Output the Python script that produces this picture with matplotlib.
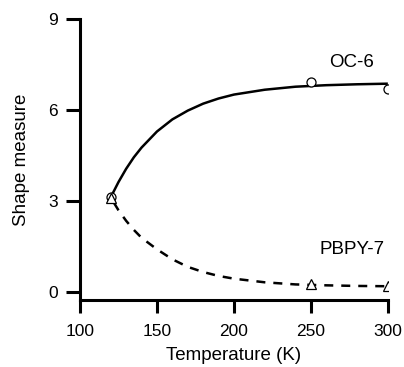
import matplotlib
matplotlib.use("Agg")
import matplotlib.pyplot as plt

plt.rcParams['font.family'] = ['Liberation Sans', 'DejaVu Sans']

# Measured points
temps = [120, 250, 300]
oc6 = [3.13, 6.93, 6.70]
pbpy7 = [3.10, 0.27, 0.21]

# Fit curves
curve_t = [120, 125, 130, 135, 140, 150, 160, 170, 180, 190, 200, 220, 240, 260, 280, 300]
oc6_curve = [3.13, 3.63, 4.07, 4.45, 4.77, 5.30, 5.70, 5.99, 6.22, 6.39, 6.52, 6.68, 6.78, 6.83, 6.86, 6.88]
pbpy7_curve_t = [122, 125, 130, 135, 140, 150, 160, 170, 180, 190, 200, 220, 240, 260, 280, 300]
pbpy7_curve = [2.95, 2.70, 2.35, 2.05, 1.79, 1.41, 1.08, 0.83, 0.66, 0.53, 0.44, 0.32, 0.25, 0.22, 0.20, 0.19]

xticks = [100, 150, 200, 250, 300]
yticks = [0, 3, 6, 9]

fig = plt.figure(figsize=(4.04, 3.67), dpi=100)
ax = fig.add_axes([0.198, 0.1826, 0.762, 0.7643])

ax.plot(curve_t, oc6_curve, color='black', lw=1.8, solid_capstyle='butt')
ax.plot(pbpy7_curve_t, pbpy7_curve, color='black', lw=1.8, linestyle=(0, (3.6, 3.2)))
ax.plot(temps, oc6, linestyle='none', marker='o', ms=6.5, mfc='white', mec='black', mew=0.9)
ax.plot(temps, pbpy7, linestyle='none', marker='^', ms=6.5, mfc='white', mec='black', mew=0.9)

ax.text(276.5, 7.58, 'OC-6', ha='center', va='center', fontsize=13.5)
ax.text(276.5, 1.39, 'PBPY-7', ha='center', va='center', fontsize=13.5)

ax.set_xlim(100, 300)
ax.set_ylim(-0.264, 9)
ax.set_xticks(xticks)
ax.set_yticks(yticks)
ax.spines['top'].set_visible(False)
ax.spines['right'].set_visible(False)
for s in ['left', 'bottom']:
    ax.spines[s].set_linewidth(2.2)
ax.tick_params(axis='both', direction='out', width=2.2, labelsize=12.5, colors='black')
ax.tick_params(axis='y', length=10, pad=6)
ax.tick_params(axis='x', length=9, pad=8)
ax.set_xlabel('Temperature (K)', fontsize=13.5, labelpad=6)
ax.set_ylabel('Shape measure', fontsize=13.5, labelpad=13)

fig.savefig('out.png', dpi=100)
